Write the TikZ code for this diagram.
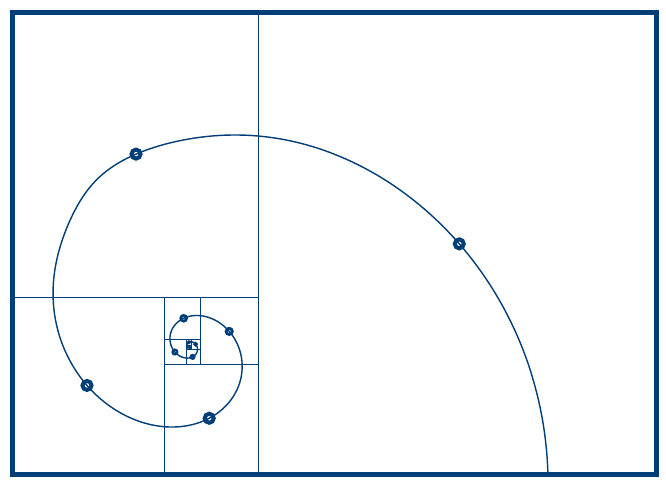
\documentclass[tikz,border=0pt]{standalone}
\definecolor{navy}{RGB}{0,62,120}
\tikzset{
  gridline/.style={draw=navy, line width=1.4pt},
  spiralline/.style={draw=navy, line width=1.4pt, line join=round},
  frame/.style={draw=navy, line width=5pt},
  ring/.style={circle, draw=navy, fill=white, inner sep=0pt},
}
% spiral: x and y (pixels, y downwards) as functions of the angle t (degrees)
\def\DD#1{(min(abs((#1)-110),70)/22)}
\def\XX#1{189.9+342*pow(1.618034,-(#1)/90)*(cos(#1)-0.063*exp(-\DD{#1}*\DD{#1}))}
\def\YY#1{346.3-326.4*pow(1.618034,-((#1)-5)/90)*sin((#1)-5)}
\begin{document}
\begin{tikzpicture}[x=1pt,y=-1pt]
\useasboundingbox[fill=white] (0,0) rectangle (666,485);
% golden grid
\draw[gridline] (258.3,12.5) -- (258.3,474.5);
\draw[gridline] (12.5,297.5) -- (258.3,297.5);
\draw[gridline] (164.4,297.5) -- (164.4,474.5);
\draw[gridline] (164.4,364.5) -- (258.3,364.5);
\draw[gridline] (200.3,297.5) -- (200.3,364.5);
\draw[gridline] (164.4,339.2) -- (200.3,339.2);
\draw[gridline] (186.6,339.2) -- (186.6,364.5);
\draw[gridline] (186.6,349.3) -- (200.3,349.3);
\draw[gridline, line width=1pt] (191.8,339.2) -- (191.8,349.3);
\draw[gridline, line width=1pt] (186.6,345.5) -- (191.8,345.5);
\draw[gridline, line width=0.8pt] (189.8,345.5) -- (189.8,349.3);
\draw[gridline, line width=0.8pt] (189.8,347.1) -- (191.8,347.1);
% markers on the spiral
\foreach \t/\s/\w [count=\i] in {25.5/9/4, 102.5/9/4, 205.5/9/4, 285/9/4,
   385.5/6.2/2.8, 462.5/5.8/2.7, 565.5/4.8/2.2, 644/4/2.0,
   745.5/3.2/1.6, 822.5/2.8/1.4, 925.5/2.0/1.1, 1002.5/1.6/0.9} {
  \pgfmathsetmacro\px{\XX{\t}}
  \pgfmathsetmacro\py{\YY{\t}}
  \node[ring, minimum size=\s pt, line width=\w pt] (m\i) at (\px,\py) {};
}
% spiral
\draw[spiralline] plot[domain=-15.4:1100, samples=900, variable=\t] ({\XX{\t}},{\YY{\t}});
% frame
\draw[frame] (12.5,12.5) rectangle (656,474.5);
\end{tikzpicture}
\end{document}
